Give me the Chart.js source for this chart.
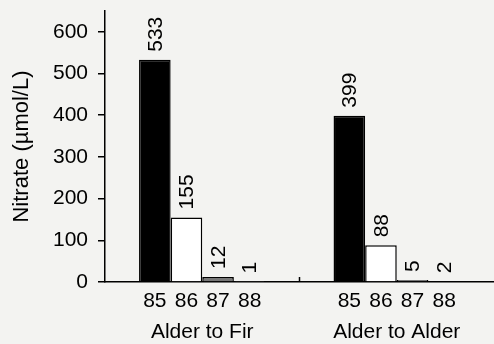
<!DOCTYPE html>
<html>
<head>
<meta charset="utf-8">
<script src="https://cdn.jsdelivr.net/npm/chart.js@4.4.1/dist/chart.umd.min.js"></script>
<style>
  html, body { margin: 0; padding: 0; background: #f3f3f1; }
  canvas { display: block; }
</style>
</head>
<body>
<canvas id="chart" width="494" height="344"></canvas>
<script>
// data
var groups = ["Alder to Fir", "Alder to Alder"];
var years = ["85", "86", "87", "88"];
var nitrate85 = [533, 399];
var nitrate86 = [155, 88];
var nitrate87 = [12, 5];
var nitrate88 = [1, 2];
var yTicks = [0, 100, 200, 300, 400, 500, 600];

var fills = ["#000000", "#ffffff", "#777777", "#ffffff"];
var font = "Liberation Sans, Arial, sans-serif";

// rotated value labels above each bar + year under each bar
var barText = {
    id: 'barText',
    afterDatasetsDraw: function (chart) {
        var ctx = chart.ctx;
        var bottom = chart.scales.x.top;
        ctx.save();
        ctx.fillStyle = "#000";
        chart.data.datasets.forEach(function (ds, d) {
            chart.getDatasetMeta(d).data.forEach(function (bar, i) {
                // value, reading bottom to top
                ctx.save();
                ctx.translate(bar.x, bar.y - 8);
                ctx.rotate(-Math.PI / 2);
                ctx.font = "21px " + font;
                ctx.textAlign = "left";
                ctx.textBaseline = "middle";
                ctx.fillText(String(ds.data[i]), 0, 1);
                ctx.restore();
                // year
                ctx.font = "21px " + font;
                ctx.textAlign = "center";
                ctx.textBaseline = "middle";
                ctx.fillText(years[d], bar.x, bottom + 19);
            });
        });
        // small inward tick between groups
        var xs = chart.scales.x;
        var mid = (xs.getPixelForValue(0) + xs.getPixelForValue(1)) / 2;
        ctx.strokeStyle = "#000";
        ctx.lineWidth = 1.5;
        ctx.beginPath();
        ctx.moveTo(mid, bottom);
        ctx.lineTo(mid, bottom - 5);
        ctx.stroke();
        ctx.restore();
    }
};

var datasets = [nitrate85, nitrate86, nitrate87, nitrate88].map(function (vals, k) {
    return {
        label: years[k],
        data: vals,
        backgroundColor: fills[k],
        borderColor: "#000",
        borderWidth: 1.5,
        categoryPercentage: 0.65,
        barPercentage: 1.0
    };
});

new Chart(document.getElementById("chart"), {
    type: 'bar',
    data: { labels: groups, datasets: datasets },
    plugins: [barText],
    options: {
        responsive: false,
        animation: false,
        devicePixelRatio: 1,
        layout: { padding: 0 },
        plugins: { legend: { display: false }, tooltip: { enabled: false } },
        scales: {
            x: {
                grid: { display: false, drawTicks: false },
                border: { color: "#000", width: 1.5 },
                ticks: {
                    color: "#000",
                    padding: 38,
                    font: { family: font, size: 21 }
                },
                afterFit: function (s) {
                    s.height = 62;
                    s.paddingLeft = 0;
                    s.paddingRight = 0;
                }
            },
            y: {
                min: 0,
                max: 650,
                afterBuildTicks: function (s) {
                    s.ticks = yTicks.map(function (v) { return { value: v }; });
                },
                grid: { drawOnChartArea: false, color: "#000", lineWidth: 1.5, tickLength: 7 },
                border: { color: "#000", width: 1.5 },
                ticks: {
                    color: "#000",
                    padding: 10,
                    font: { family: font, size: 21 }
                },
                title: {
                    display: true,
                    text: "Nitrate (µmol/L)",
                    color: "#000",
                    font: { family: font, size: 22 },
                    padding: { top: 9, bottom: 0 }
                },
                afterFit: function (s) {
                    s.width = 105;
                    s.paddingTop = 11;
                    s.paddingBottom = 0;
                }
            }
        }
    }
});
</script>
</body>
</html>
